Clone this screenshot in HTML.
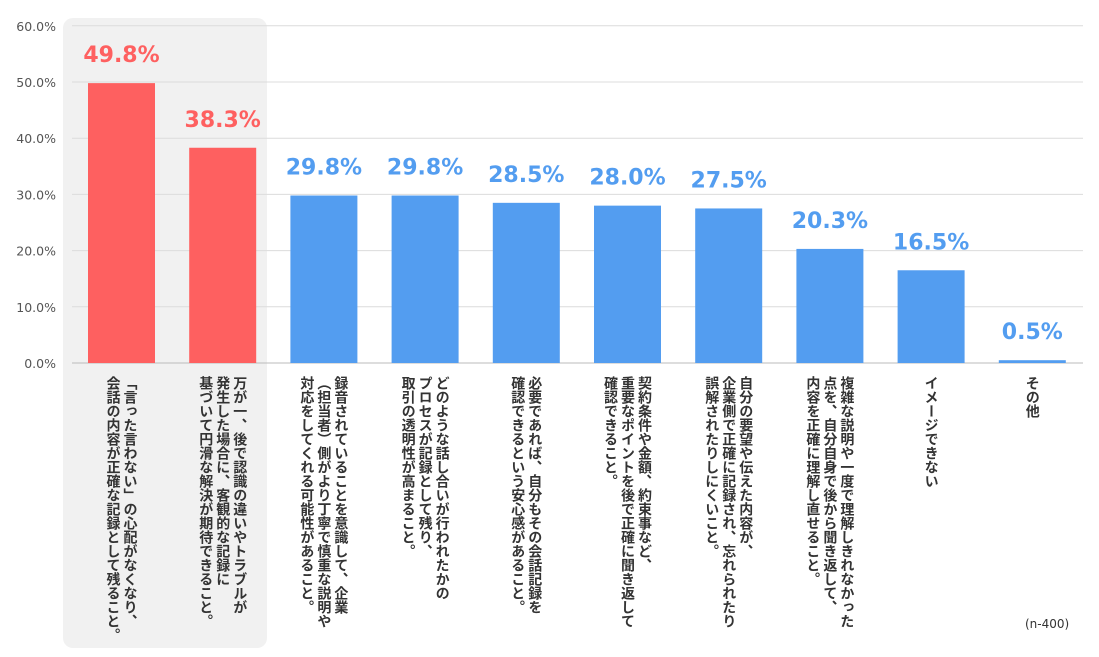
<!DOCTYPE html>
<html><head><meta charset="utf-8"><style>
body{margin:0;background:#fff;width:1099px;height:657px;overflow:hidden;position:relative;font-family:"DejaVu Sans","Noto Sans CJK JP",sans-serif}
.lbl{position:absolute;top:376px;writing-mode:vertical-rl;font-size:14px;line-height:17px;font-weight:bold;color:#333;font-family:"Noto Sans CJK JP","Liberation Sans",sans-serif;white-space:nowrap}
</style></head><body>
<div style="position:absolute;left:63px;top:18px;width:204px;height:630px;background:#f1f1f1;border-radius:10px"></div>
<svg width="1099" height="657" style="position:absolute;left:0;top:0" id="svg"></svg>
<div id="labels"></div>
<div style="position:absolute;left:1025px;top:617px;font-size:12px;color:#333">(n-400)</div>
<script>
const categories=["「言った言わない」の心配がなくなり、\n会話の内容が正確な記録として残ること。","万が一、後で認識の違いやトラブルが\n発生した場合に、客観的な記録に\n基づいて円滑な解決が期待できること。","録音されていることを意識して、企業\n（担当者）側がより丁寧で慎重な説明や\n対応をしてくれる可能性があること。","どのような話し合いが行われたかの\nプロセスが記録として残り、\n取引の透明性が高まること。","必要であれば、自分もその会話記録を\n確認できるという安心感があること。","契約条件や金額、約束事など、\n重要なポイントを後で正確に聞き返して\n確認できること。","自分の要望や伝えた内容が、\n企業側で正確に記録され、忘れられたり\n誤解されたりしにくいこと。","複雑な説明や一度で理解しきれなかった\n点を、自分自身で後から聞き返して、\n内容を正確に理解し直せること。","イメージできない","その他"];
const values=[49.8,38.3,29.8,29.8,28.5,28.0,27.5,20.3,16.5,0.5];
const highlighted=[true,true,false,false,false,false,false,false,false,false];
const yTicks=[0,10,20,30,40,50,60];
const NS="http://www.w3.org/2000/svg";
const svg=document.getElementById('svg');
const y=v=>363-v*5.62;
const xc=i=>121.5+i*101.2;
function mk(t,a){const e=document.createElementNS(NS,t);for(const k in a)e.setAttribute(k,a[k]);svg.appendChild(e);return e;}
yTicks.forEach(t=>{
 const l=mk('line',{x1:72,x2:1083,y1:y(t),y2:y(t),stroke:t===0?'#bbb':'#dcdcdc','stroke-width':1});
 
 
 const tx=mk('text',{x:56,y:y(t)+5,'text-anchor':'end','font-size':12.5,fill:'#555'});
 tx.textContent=t.toFixed(1)+'%';
 
 
});
const labels=document.getElementById('labels');
values.forEach((v,i)=>{
 const col=highlighted[i]?'#fe6060':'#539df0';
 const r=mk('rect',{x:xc(i)-33.5,y:y(v),width:67,height:363-y(v),fill:col});
 
 
 const t=mk('text',{x:xc(i),y:y(v)-21,'text-anchor':'middle','font-size':22,'font-weight':'bold',fill:col});
 t.textContent=v.toFixed(1)+'%';
 
 
 const d=document.createElement('div');
 d.className='lbl';
 
 
 d.innerHTML=categories[i].split('\n').join('<br>');
 labels.appendChild(d);
 const w=d.offsetWidth;
 d.style.left=(xc(i)-w/2)+'px';
});
</script>
</body></html>
